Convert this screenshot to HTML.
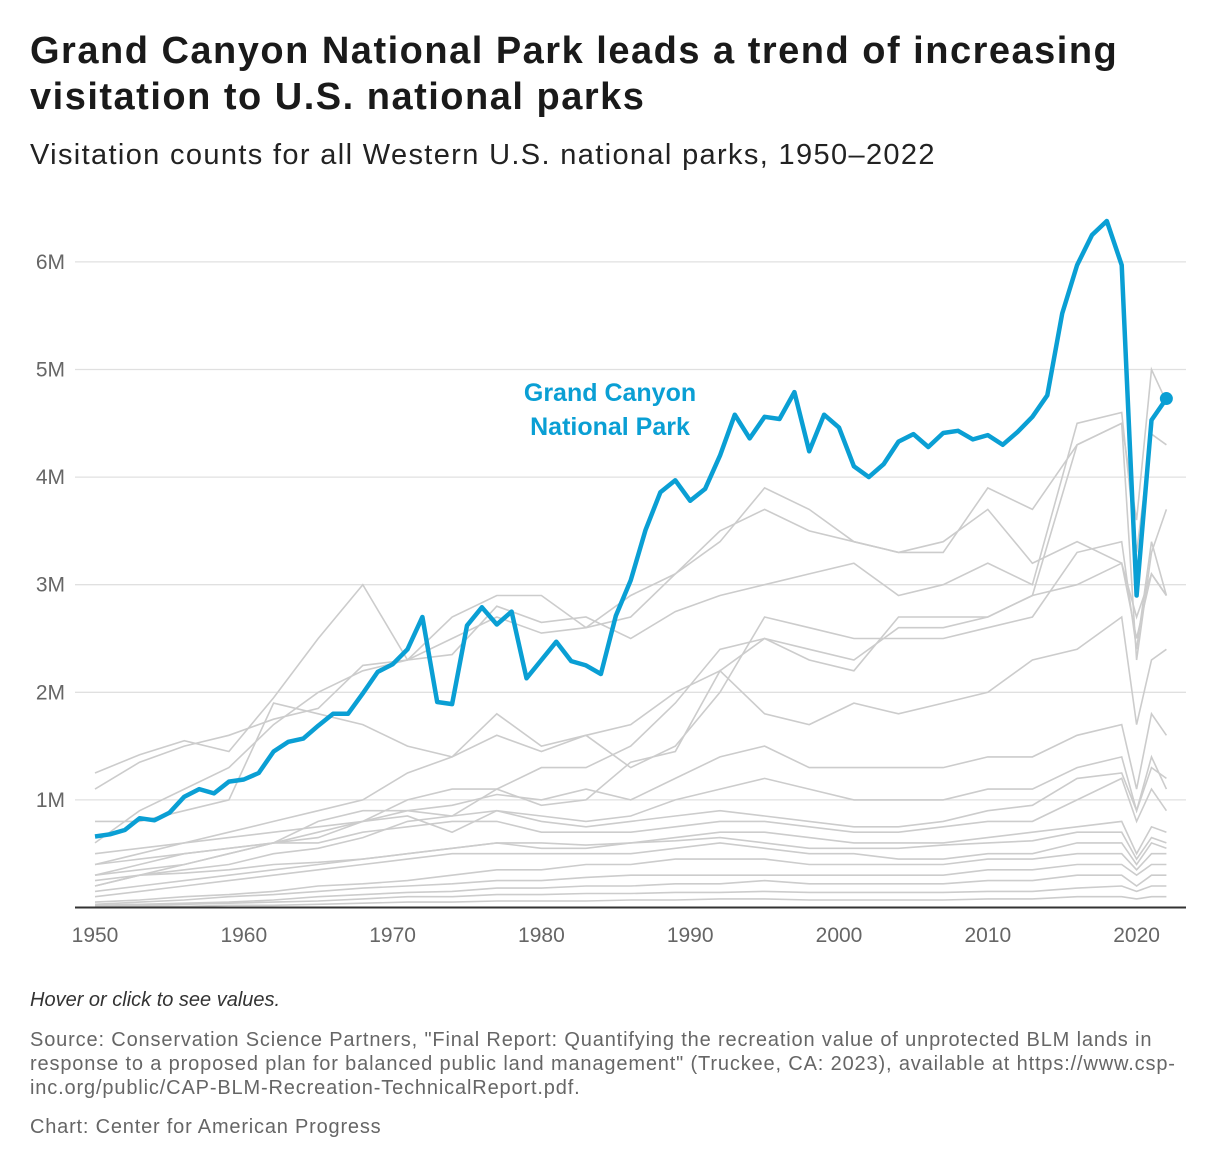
<!DOCTYPE html>
<html><head><meta charset="utf-8">
<style>
body{margin:0;background:#fff;width:1220px;height:1172px;overflow:hidden;font-family:"Liberation Sans",Arial,sans-serif;}
#title{position:absolute;left:30px;top:28px;font-size:38px;font-weight:bold;color:#1a1a1a;line-height:46px;width:1190px;white-space:nowrap;letter-spacing:1.5px}
#sub{position:absolute;left:30px;top:139px;font-size:29px;color:#222;letter-spacing:1.35px}
.foot{position:absolute;left:30px;color:#666;font-size:20px;line-height:24px;width:1190px;white-space:nowrap}
</style></head><body>
<div id="title">Grand Canyon National Park leads a trend of increasing<br>visitation to U.S. national parks</div>
<div id="sub">Visitation counts for all Western U.S. national parks, 1950–2022</div>
<svg id="chart" width="1220" height="1172" style="position:absolute;left:0;top:0"></svg>
<div class="foot" style="top:988px;font-style:italic;font-size:20px;color:#333">Hover or click to see values.</div>
<div class="foot" style="top:1028px;letter-spacing:0.85px">Source: Conservation Science Partners, "Final Report: Quantifying the recreation value of unprotected BLM lands in<br>response to a proposed plan for balanced public land management" (Truckee, CA: 2023), available at https://www.csp-<br>inc.org/public/CAP-BLM-Recreation-TechnicalReport.pdf.</div>
<div class="foot" style="top:1115px;letter-spacing:0.8px">Chart: Center for American Progress</div>
<script>
const gcYears=[];for(let y=1950;y<=2022;y++)gcYears.push(y);
const grandCanyon=[0.66,0.68,0.72,0.83,0.81,0.88,1.03,1.10,1.06,1.17,1.19,1.25,1.45,1.54,1.57,1.69,1.80,1.80,1.99,2.19,2.26,2.40,2.70,1.91,1.89,2.62,2.79,2.63,2.75,2.13,2.30,2.47,2.29,2.25,2.17,2.71,3.04,3.51,3.86,3.97,3.78,3.89,4.20,4.58,4.36,4.56,4.54,4.79,4.24,4.58,4.46,4.10,4.00,4.12,4.33,4.40,4.28,4.41,4.43,4.35,4.39,4.30,4.42,4.56,4.76,5.52,5.97,6.25,6.38,5.97,2.90,4.53,4.73];
const grayYears=[1950,1953,1956,1959,1962,1965,1968,1971,1974,1977,1980,1983,1986,1989,1992,1995,1998,2001,2004,2007,2010,2013,2016,2019,2020,2021,2022];
const grayA=[1.25,1.42,1.55,1.45,1.95,2.5,3.0,2.3,2.5,2.7,2.55,2.6,2.7,3.1,3.4,3.9,3.7,3.4,3.3,3.3,3.9,3.7,4.3,4.5,2.3,3.3,3.7];
const grayB=[0.3,0.35,0.4,0.5,0.6,0.8,0.9,0.9,0.85,1.1,1.3,1.3,1.5,1.9,2.4,2.5,2.3,2.2,2.7,2.7,2.7,2.9,4.3,4.5,3.6,5.0,4.7];
const grayC=[1.1,1.35,1.5,1.6,1.75,1.85,2.25,2.3,2.35,2.8,2.65,2.7,2.5,2.75,2.9,3.0,3.1,3.2,2.9,3.0,3.2,3.0,4.5,4.6,3.3,4.4,4.3];
const grayD=[0.6,0.9,1.1,1.3,1.7,2.0,2.2,2.3,2.7,2.9,2.9,2.6,2.9,3.1,3.5,3.7,3.5,3.4,3.3,3.4,3.7,3.2,3.4,3.2,2.5,3.1,2.9];
const grayE=[0.8,0.8,0.9,1.0,1.9,1.8,1.7,1.5,1.4,1.8,1.5,1.6,1.3,1.5,2.0,2.7,2.6,2.5,2.5,2.5,2.6,2.7,3.3,3.4,2.4,3.4,2.9];
const grayF=[0.4,0.5,0.6,0.7,0.8,0.9,1.0,1.25,1.4,1.6,1.45,1.6,1.7,2.0,2.2,2.5,2.4,2.3,2.6,2.6,2.7,2.9,3.0,3.2,2.7,3.1,2.9];
const grayG=[0.2,0.3,0.4,0.5,0.6,0.65,0.8,1.0,1.1,1.1,0.95,1.0,1.35,1.45,2.2,1.8,1.7,1.9,1.8,1.9,2.0,2.3,2.4,2.7,1.7,2.3,2.4];
const grayH=[0.3,0.4,0.5,0.55,0.6,0.7,0.8,0.9,0.95,1.05,1.0,1.1,1.0,1.2,1.4,1.5,1.3,1.3,1.3,1.3,1.4,1.4,1.6,1.7,1.1,1.8,1.6];
const grayI=[0.2,0.3,0.35,0.4,0.5,0.55,0.65,0.8,0.85,0.9,0.85,0.8,0.85,1.0,1.1,1.2,1.1,1.0,1.0,1.0,1.1,1.1,1.3,1.4,0.9,1.3,1.2];
const grayJ=[0.4,0.45,0.5,0.55,0.6,0.6,0.7,0.75,0.8,0.8,0.7,0.7,0.7,0.75,0.8,0.8,0.75,0.7,0.7,0.75,0.8,0.8,1.0,1.2,0.8,1.1,0.9];
const grayK=[0.15,0.2,0.25,0.3,0.35,0.4,0.45,0.5,0.55,0.6,0.55,0.55,0.6,0.65,0.7,0.7,0.65,0.6,0.6,0.6,0.65,0.7,0.75,0.8,0.5,0.75,0.7];
const grayL=[0.1,0.15,0.2,0.25,0.3,0.35,0.4,0.45,0.5,0.5,0.5,0.5,0.5,0.55,0.6,0.55,0.5,0.5,0.45,0.45,0.5,0.5,0.6,0.6,0.4,0.6,0.55];
const grayM=[0.05,0.07,0.1,0.12,0.15,0.2,0.22,0.25,0.3,0.35,0.35,0.4,0.4,0.45,0.45,0.45,0.4,0.4,0.4,0.4,0.45,0.45,0.5,0.5,0.35,0.5,0.5];
const grayN=[0.03,0.05,0.07,0.1,0.12,0.15,0.18,0.2,0.22,0.25,0.25,0.28,0.3,0.3,0.3,0.3,0.3,0.3,0.3,0.3,0.35,0.35,0.4,0.4,0.3,0.4,0.4];
const grayO=[0.02,0.03,0.04,0.05,0.07,0.1,0.12,0.14,0.15,0.18,0.18,0.2,0.2,0.22,0.22,0.25,0.22,0.22,0.22,0.22,0.25,0.25,0.3,0.3,0.2,0.3,0.3];
const grayP=[0.01,0.02,0.03,0.04,0.05,0.06,0.08,0.1,0.1,0.12,0.12,0.13,0.13,0.14,0.14,0.15,0.14,0.14,0.14,0.14,0.15,0.15,0.18,0.2,0.15,0.2,0.2];
const grayQ=[0.0,0.01,0.01,0.02,0.02,0.03,0.04,0.05,0.05,0.06,0.06,0.06,0.07,0.07,0.08,0.08,0.07,0.07,0.07,0.07,0.08,0.08,0.1,0.1,0.08,0.1,0.1];
const grayR=[0.5,0.55,0.6,0.65,0.7,0.75,0.8,0.85,0.7,0.9,0.8,0.75,0.8,0.85,0.9,0.85,0.8,0.75,0.75,0.8,0.9,0.95,1.2,1.25,0.9,1.4,1.1];
const grayS=[0.25,0.3,0.32,0.35,0.4,0.42,0.45,0.5,0.55,0.6,0.6,0.58,0.6,0.62,0.65,0.6,0.55,0.55,0.55,0.58,0.6,0.62,0.7,0.7,0.45,0.65,0.6];
const graySeries=[grayA,grayB,grayC,grayD,grayE,grayF,grayG,grayH,grayI,grayJ,grayK,grayL,grayM,grayN,grayO,grayP,grayQ,grayR,grayS];
const yTicks=[1,2,3,4,5,6];
const yTickLabels=["1M","2M","3M","4M","5M","6M"];
const xTicks=[1950,1960,1970,1980,1990,2000,2010,2020];

const NS="http://www.w3.org/2000/svg";
const svg=document.getElementById('chart');
const x=yr=>95+(yr-1950)*14.88;
const y=v=>907.5-v*107.6;
function mk(t,a){const e=document.createElementNS(NS,t);for(const k in a)e.setAttribute(k,a[k]);svg.appendChild(e);return e;}
yTicks.forEach((t,i)=>{
  const g=mk('line',{x1:75,x2:1186,y1:y(t),y2:y(t),stroke:'#e0e0e0','stroke-width':1.3});
  
  
  const l=mk('text',{x:65,y:y(t)+7,'text-anchor':'end','font-size':21,fill:'#666','font-family':'Liberation Sans, sans-serif'});
  l.textContent=yTickLabels[i];
  
  
});
xTicks.forEach(t=>{
  const l=mk('text',{x:x(t),y:942,'text-anchor':'middle','font-size':21,fill:'#666','font-family':'Liberation Sans, sans-serif'});
  l.textContent=t;
  
  
});
graySeries.forEach(s=>{
  const d=s.map((v,i)=>(i?'L':'M')+x(grayYears[i]).toFixed(1)+','+y(v).toFixed(1)).join('');
  const p=mk('path',{d:d,fill:'none',stroke:'#cccccc','stroke-width':1.6});
  
  
});
const ax=mk('line',{x1:75,x2:1186,y1:907.5,y2:907.5,stroke:'#333','stroke-width':2});


const gd=grandCanyon.map((v,i)=>(i?'L':'M')+x(gcYears[i]).toFixed(1)+','+y(v).toFixed(1)).join('');
const gp=mk('path',{d:gd,fill:'none',stroke:'#0a9fd4','stroke-width':4.5,'stroke-linejoin':'round'});


const last=grandCanyon.length-1;
const dot=mk('circle',{cx:x(gcYears[last]),cy:y(grandCanyon[last]),r:6.5,fill:'#0a9fd4'});


const lbl=mk('text',{x:610,y:401,'text-anchor':'middle','font-size':25,'font-weight':'bold',fill:'#0a9fd4','font-family':'Liberation Sans, sans-serif'});


const t1=document.createElementNS(NS,'tspan');t1.setAttribute('x',610);t1.textContent='Grand Canyon';lbl.appendChild(t1);
const t2=document.createElementNS(NS,'tspan');t2.setAttribute('x',610);t2.setAttribute('dy',34);t2.textContent='National Park';lbl.appendChild(t2);
</script>
</body></html>
